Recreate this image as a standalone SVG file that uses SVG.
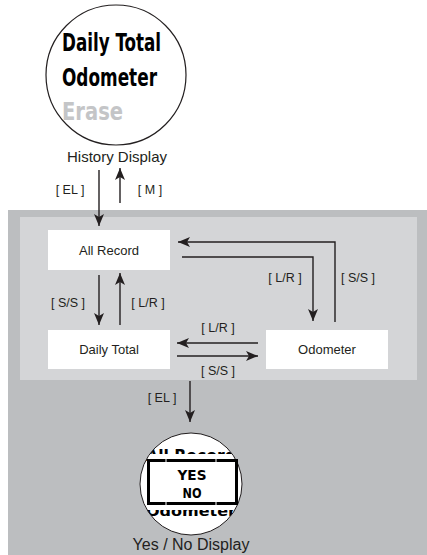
<svg xmlns="http://www.w3.org/2000/svg" width="427" height="555" viewBox="0 0 427 555">
<style>
.lbl{font-family:"Liberation Sans",Arial,sans-serif;font-size:12.5px;fill:#231f20;text-anchor:middle}
.box{fill:#ffffff}
.btxt{font-family:"Liberation Sans",Arial,sans-serif;font-size:13px;fill:#231f20;text-anchor:middle}
.cap{font-family:"Liberation Sans",Arial,sans-serif;fill:#231f20;text-anchor:middle}
.lcd{font-family:"DejaVu Sans Condensed","DejaVu Sans",sans-serif;font-weight:bold;font-stretch:condensed}
.con{fill:none;stroke:#231f20;stroke-width:1.4}
.gap{stroke:#ffffff;stroke-width:1}
.mask{fill:#ffffff}
</style>
<defs>
<marker id="ah" viewBox="0 0 12 10" refX="12" refY="5" markerWidth="12" markerHeight="10" orient="auto" markerUnits="userSpaceOnUse">
<path d="M0,0 L12,5 L0,10 L3,5 z" fill="#231f20"/>
</marker>
</defs>
<rect width="427" height="555" fill="#ffffff"/>
<rect x="8" y="210" width="419" height="345" fill="#bcbec0"/>
<rect x="20" y="217" width="397" height="163" fill="#d4d5d7"/>

<g id="history-display">
<circle cx="116" cy="75" r="70" fill="#ffffff" stroke="#231f20" stroke-width="1.2"/>
<text class="lcd" x="62" y="51" font-size="24" fill="#000" textLength="99" lengthAdjust="spacingAndGlyphs">Daily Total</text>
<text class="lcd" x="62" y="86" font-size="24" fill="#000" textLength="95" lengthAdjust="spacingAndGlyphs">Odometer</text>
<text class="lcd" x="62" y="120" font-size="24" fill="#c4c5c7" textLength="61" lengthAdjust="spacingAndGlyphs">Erase</text>
<text class="cap" x="117" y="162" font-size="15">History Display</text>
</g>

<g id="all-record">
<rect class="box" x="48" y="230" width="122" height="40"/>
<text class="btxt" x="109" y="255">All Record</text>
</g>
<g id="daily-total">
<rect class="box" x="48" y="330" width="122" height="39"/>
<text class="btxt" x="109" y="354">Daily Total</text>
</g>
<g id="odometer">
<rect class="box" x="266" y="330" width="122" height="39"/>
<text class="btxt" x="327" y="354">Odometer</text>
</g>

<g id="yes-no-display">
<circle cx="191" cy="484" r="51" fill="#ffffff"/>
<text class="lcd" x="146" y="461" font-size="16" fill="#000" textLength="90" lengthAdjust="spacingAndGlyphs">All Record</text>
<text class="lcd" x="146" y="516" font-size="14" fill="#000" textLength="90" lengthAdjust="spacingAndGlyphs">Odometer</text>
<rect class="mask" x="140" y="440" width="102" height="8"/>
<rect class="mask" x="140" y="454" width="102" height="6"/>
<rect class="mask" x="140" y="503" width="102" height="7"/>
<rect class="mask" x="140" y="516" width="102" height="6"/>
<path d="M128,428 H254 V537 H128 Z M140,484 a51,51 0 1,0 102,0 a51,51 0 1,0 -102,0 Z" fill="#bcbec0" fill-rule="evenodd"/>
<circle cx="191" cy="484" r="51" fill="none" stroke="#231f20" stroke-width="1"/>
<rect x="148.5" y="460.5" width="88" height="43" fill="#ffffff" stroke="#000" stroke-width="3"/>
<path class="gap" d="M166,459 V462 M216,459 V462 M166,502 V505 M216,502 V505"/>
<text class="lcd" x="192" y="480" font-size="14" fill="#000" text-anchor="middle" textLength="29" lengthAdjust="spacingAndGlyphs">YES</text>
<text class="lcd" x="192" y="498" font-size="14" fill="#000" text-anchor="middle" textLength="19" lengthAdjust="spacingAndGlyphs">NO</text>
<text class="cap" x="191" y="550" font-size="16">Yes / No Display</text>
</g>

<g id="connectors">
<path class="con" d="M99,170 V226" marker-end="url(#ah)"/>
<path class="con" d="M120,203 V168" marker-end="url(#ah)"/>
<path class="con" d="M99,275 V325" marker-end="url(#ah)"/>
<path class="con" d="M120,325 V273" marker-end="url(#ah)"/>
<path class="con" d="M182,257 H313 V321" marker-end="url(#ah)"/>
<path class="con" d="M335,322 V242 H178" marker-end="url(#ah)"/>
<path class="con" d="M258,343 H177" marker-end="url(#ah)"/>
<path class="con" d="M177,356 H258" marker-end="url(#ah)"/>
<path class="con" d="M190,381 V422" marker-end="url(#ah)"/>
<text class="lbl" x="70" y="194">[ EL ]</text>
<text class="lbl" x="150" y="194">[ M ]</text>
<text class="lbl" x="68" y="307">[ S/S ]</text>
<text class="lbl" x="148" y="307">[ L/R ]</text>
<text class="lbl" x="285" y="282">[ L/R ]</text>
<text class="lbl" x="358" y="282">[ S/S ]</text>
<text class="lbl" x="218" y="332">[ L/R ]</text>
<text class="lbl" x="218" y="375">[ S/S ]</text>
<text class="lbl" x="162" y="402">[ EL ]</text>
</g>
</svg>
